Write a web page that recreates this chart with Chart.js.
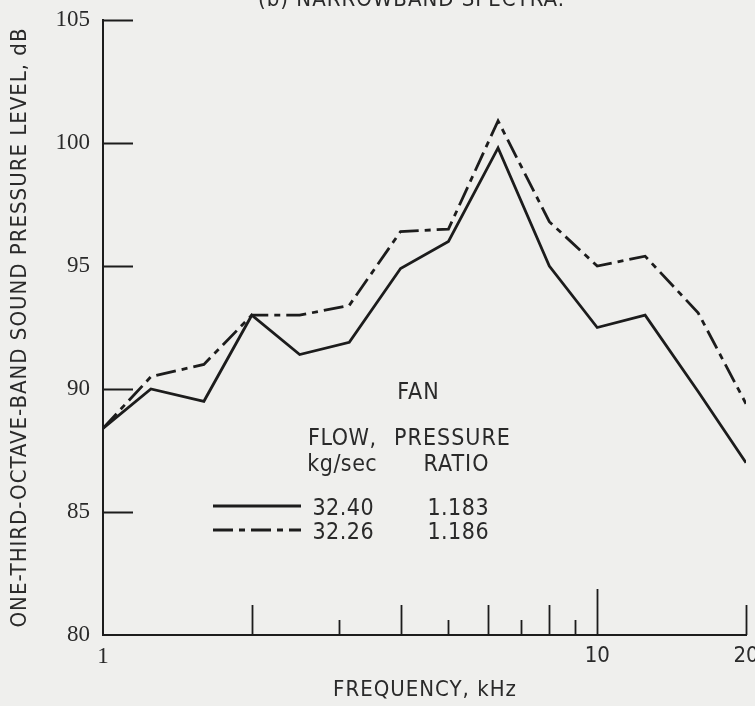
<!DOCTYPE html>
<html>
<head>
<meta charset="utf-8">
<script src="https://cdn.jsdelivr.net/npm/chart.js@4/dist/chart.umd.min.js"></script>
<style>
  html, body { margin: 0; padding: 0; background: #efefed; }
  canvas { display: block; }
</style>
</head>
<body>
<canvas id="spl" width="755" height="706"></canvas>
<script>
// One-third-octave band centre frequencies, kHz
const bandFreqs = [1, 1.25, 1.6, 2, 2.5, 3.15, 4, 5, 6.3, 8, 10, 12.5, 16, 20];
// Sound pressure level, dB, fan flow 32.40 kg/sec (pressure ratio 1.183)
const splFlow3240 = [88.4, 90.0, 89.5, 93.0, 91.4, 91.9, 94.9, 96.0, 99.8, 95.0, 92.5, 93.0, 89.9, 87.0];
// Sound pressure level, dB, fan flow 32.26 kg/sec (pressure ratio 1.186)
const splFlow3226 = [88.4, 90.5, 91.0, 93.0, 93.0, 93.4, 96.4, 96.5, 100.9, 96.8, 95.0, 95.4, 93.1, 89.4];

// Axis ticks
const xLabelTicks = [1, 10, 20];
const xMinorTicks = [2, 3, 4, 5, 6, 7, 8, 9, 10, 20];
const yTicks = [80, 85, 90, 95, 100, 105];

// Legend table
const legendFlows = ['32.40', '32.26'];
const legendRatios = ['1.183', '1.186'];

const INK = '#1c1c1c';
const TEXT = '#2a2a2a';
const SANS = '"Liberation Sans Narrow", "DejaVu Sans Condensed", "Open Sans", sans-serif';
const SERIF = '"Liberation Serif", "DejaVu Serif", serif';
const DASH_DOT = [20, 6, 6, 6];

function toPoints(values) {
  return bandFreqs.map((f, i) => ({ x: f, y: values[i] }));
}

const paperPlugin = {
  id: 'paper',
  beforeDraw(chart) {
    const c = chart.ctx;
    c.save();
    c.fillStyle = '#efefed';
    c.fillRect(0, 0, chart.width, chart.height);
    c.restore();
  }
};

// Inward tick marks on both axes
const innerTicksPlugin = {
  id: 'innerTicks',
  afterDatasetsDraw(chart) {
    const c = chart.ctx;
    const xs = chart.scales.x, ys = chart.scales.y;
    const area = chart.chartArea;
    c.save();
    c.strokeStyle = INK;
    c.lineWidth = 1.8;
    c.beginPath();
    yTicks.slice(1).forEach(v => {
      const py = Math.round(ys.getPixelForValue(v)) + 0.5;
      c.moveTo(area.left, py);
      c.lineTo(area.left + 30, py);
    });
    xMinorTicks.forEach(v => {
      const px = Math.round(xs.getPixelForValue(v)) + 0.5;
      const len = v === 10 ? 46 : (v % 2 === 1 ? 15 : 30);
      c.moveTo(px, area.bottom);
      c.lineTo(px, area.bottom - len);
    });
    c.stroke();
    c.restore();
  }
};

function spacedText(c, text, x, y, align, spacing) {
  c.letterSpacing = spacing + 'px';
  const w = c.measureText(text).width - spacing;
  let sx = x;
  if (align === 'center') sx = x - w / 2;
  else if (align === 'right') sx = x - w;
  c.textAlign = 'left';
  c.fillText(text, sx, y);
}

// Titles and the fan-condition legend
const labelsPlugin = {
  id: 'labels',
  afterDraw(chart) {
    const c = chart.ctx;
    const area = chart.chartArea;
    c.save();
    c.fillStyle = TEXT;
    c.textBaseline = 'alphabetic';

    // heading, mostly above the page edge
    c.font = '22px ' + SANS;
    spacedText(c, '(b) NARROWBAND SPECTRA.', 411, 6, 'center', 1);

    // x-axis title
    spacedText(c, 'FREQUENCY, kHz', (area.left + area.right) / 2, 696, 'center', 1);

    // y-axis title
    c.save();
    c.translate(26, 328);
    c.rotate(-Math.PI / 2);
    spacedText(c, 'ONE-THIRD-OCTAVE-BAND SOUND PRESSURE LEVEL, dB', 0, 0, 'center', 1);
    c.restore();

    // legend header
    c.font = '23px ' + SANS;
    spacedText(c, 'FAN', 418, 399, 'center', 1);
    spacedText(c, 'FLOW,', 342, 445, 'center', 0.5);
    spacedText(c, 'PRESSURE', 452, 445, 'center', 1);
    spacedText(c, 'kg/sec', 342, 471, 'center', 0.5);
    spacedText(c, 'RATIO', 456, 471, 'center', 1);

    // legend rows
    chart.data.datasets.forEach((ds, i) => {
      const rowY = 506 + i * 24;
      c.save();
      c.strokeStyle = ds.borderColor;
      c.lineWidth = ds.borderWidth;
      c.setLineDash(ds.borderDash || []);
      c.beginPath();
      c.moveTo(213, rowY);
      c.lineTo(301, rowY);
      c.stroke();
      c.restore();
      spacedText(c, legendFlows[i], 343, rowY + 9, 'center', 0.5);
      spacedText(c, legendRatios[i], 458, rowY + 9, 'center', 0.5);
    });
    c.restore();
  }
};

new Chart(document.getElementById('spl'), {
  type: 'line',
  data: {
    datasets: [
      {
        label: '32.40 kg/sec, 1.183',
        data: toPoints(splFlow3240),
        borderColor: INK,
        borderWidth: 2.8,
        pointRadius: 0,
        tension: 0,
        fill: false
      },
      {
        label: '32.26 kg/sec, 1.186',
        data: toPoints(splFlow3226),
        borderColor: INK,
        borderWidth: 2.8,
        borderDash: DASH_DOT,
        pointRadius: 0,
        tension: 0,
        fill: false
      }
    ]
  },
  options: {
    responsive: false,
    animation: false,
    devicePixelRatio: 1,
    layout: { padding: { top: 20, right: 9, left: 0, bottom: 0 } },
    plugins: { legend: { display: false }, tooltip: { enabled: false } },
    scales: {
      x: {
        type: 'logarithmic',
        min: 1,
        max: 20,
        afterBuildTicks: s => { s.ticks = xLabelTicks.map(v => ({ value: v })); },
        afterFit: s => { s.height = 71; s.paddingLeft = 0; s.paddingRight = 0; },
        grid: { display: true, drawOnChartArea: false, drawTicks: false },
        border: { display: true, color: INK, width: 2 },
        ticks: {
          autoSkip: false,
          maxRotation: 0,
          padding: 8,
          color: TEXT,
          callback: v => String(v),
          font: ctx => (ctx.tick && ctx.tick.value === 1)
            ? { family: SERIF, size: 23 }
            : { family: SANS, size: 22 }
        }
      },
      y: {
        min: 80,
        max: 105,
        afterBuildTicks: s => { s.ticks = yTicks.map(v => ({ value: v })); },
        afterFit: s => { s.width = 103; s.paddingTop = 0; s.paddingBottom = 0; },
        grid: { display: true, drawOnChartArea: false, drawTicks: false },
        border: { display: true, color: INK, width: 2 },
        ticks: {
          padding: 13,
          color: TEXT,
          callback: v => String(v),
          font: { family: SERIF, size: 23 }
        }
      }
    }
  },
  plugins: [paperPlugin, innerTicksPlugin, labelsPlugin]
});
</script>
</body>
</html>
